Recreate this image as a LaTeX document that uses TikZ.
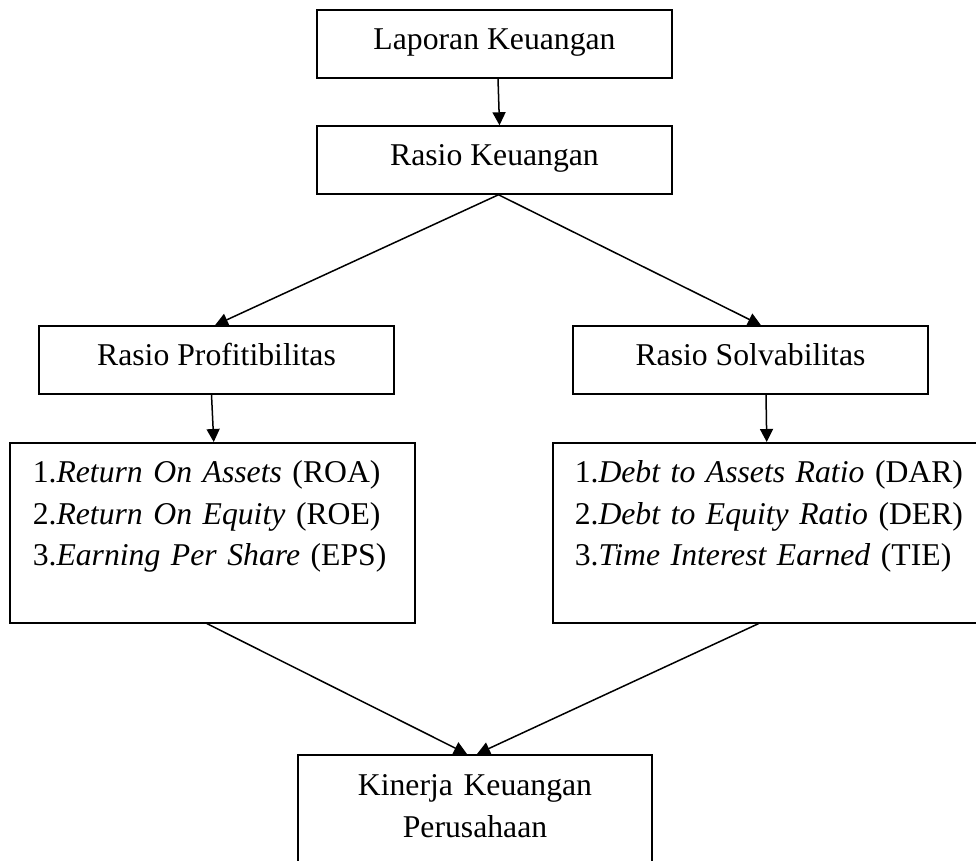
\documentclass[tikz,border=0pt]{standalone}
\usepackage{fontspec}
\setmainfont{Liberation Serif}
\usepackage{tikz}
\usetikzlibrary{arrows.meta}
\tikzset{>={Triangle[length=13pt,width=13pt]}}
\tikzset{%
    box/.style={%
        draw, line width=1.5pt,
        minimum width=355pt, minimum height=68pt,
        text height=21pt, text depth=11pt
    },
    listbox/.style={%
        draw, line width=1.5pt, anchor=north west, align=left,
        inner ysep=0pt, text height=40pt, text depth=140pt
    },
    link/.style={line width=1.5pt,->}
}

\begin{document}
\begin{tikzpicture}[x=1pt,y=-1pt,font=\fontsize{31.7}{41.5}\selectfont]
	\useasboundingbox (0,0) rectangle (976,860);
	\node[box](lap) at (494.5,44) {Laporan Keuangan};
	\node[box](rk) at (494.5,160) {Rasio Keuangan};
	\node[box](prof) at (216.5,360) {Rasio Profitibilitas};
	\node[box](solv) at (750.5,360) {Rasio Solvabilitas};
	\node[listbox, inner xsep=23pt, text width=359pt](lista) at (9,442)
		{1.\textit{Return On Assets} (ROA)\\
		 2.\textit{Return On Equity} (ROE)\\
		 3.\textit{Earning Per Share} (EPS)};
	\node[listbox, inner xsep=22pt, text width=400pt](listb) at (552,442)
		{1.\textit{Debt to Assets Ratio} (DAR)\\
		 2.\textit{Debt to Equity Ratio} (DER)\\
		 3.\textit{Time Interest Earned} (TIE)};
	\node[draw, line width=1.5pt, anchor=north, align=center, text width=354pt,
		inner xsep=0pt, inner ysep=0pt, text height=41pt, text depth=150pt](kin) at (475,754)
		{Kinerja Keuangan\\ Perusahaan};
	\draw[link] ([xshift=3.5pt]lap.south) -- ([xshift=5pt]rk.north);
	\draw[link] ([xshift=4pt]rk.south) -- ([xshift=-1.5pt]prof.north);
	\draw[link] ([xshift=4pt]rk.south) -- ([xshift=10.5pt]solv.north);
	\draw[link] ([xshift=-5pt]prof.south) -- ([xshift=1.5pt]lista.north);
	\draw[link] ([xshift=15.5pt]solv.south) -- ([xshift=-8pt]listb.north);
	\draw[link] ([xshift=-5.5pt]lista.south) -- ([xshift=-8pt]kin.north);
	\draw[link] ([xshift=-16pt]listb.south) -- ([xshift=2pt]kin.north);
\end{tikzpicture}
\end{document}
